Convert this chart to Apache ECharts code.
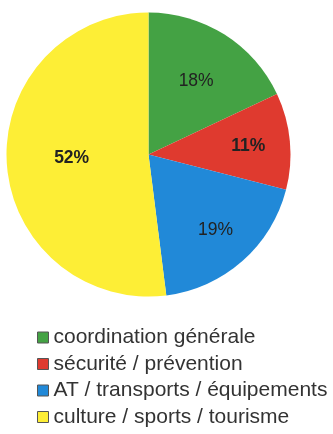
<!DOCTYPE html>
<html>
<head>
<meta charset="utf-8">
<script src="https://cdn.jsdelivr.net/npm/echarts@6/dist/echarts.min.js"></script>
<style>
    html, body { margin: 0; padding: 0; background: #fff; }
    #chart { width: 333px; height: 434px; }
</style>
</head>
<body>
<div id="chart"></div>
<script>
// catégories et parts (%)
const categories = ['coordination générale', 'sécurité / prévention', 'AT / transports / équipements', 'culture / sports / tourisme'];
const values = [18, 11, 19, 52];
const colors = ['#44a244', '#df3a2f', '#2189d8', '#fdee36'];
// décalage des étiquettes par rapport à la position "inside"
const labelOffsets = [[8, -11], [26, -1], [18, 20], [-3, -1]];
const labelWeights = ['normal', 'bold', 'normal', 'bold'];

const myChart = echarts.init(document.getElementById('chart'));

const option = {
    animation: false,
    legend: {
        orient: 'vertical',
        left: 37,
        top: 327,
        height: 107,
        padding: 0,
        itemWidth: 11,
        itemHeight: 11,
        itemGap: 5.5,
        icon: 'rect',
        itemStyle: {
            borderColor: '#555',
            borderWidth: 1
        },
        textStyle: {
            fontFamily: 'Liberation Sans, Arial, sans-serif',
            fontSize: 21,
            color: '#333'
        },
        data: categories
    },
    series: [
        {
            type: 'pie',
            center: [148.5, 154.5],
            radius: [0, 142],
            startAngle: 90,
            clockwise: true,
            avoidLabelOverlap: false,
            labelLine: { show: false },
            emphasis: { disabled: true },
            data: categories.map((name, i) => ({
                name: name,
                value: values[i],
                itemStyle: { color: colors[i] },
                label: {
                    show: true,
                    position: 'inside',
                    offset: labelOffsets[i],
                    formatter: values[i] + '%',
                    fontFamily: 'Liberation Sans, Arial, sans-serif',
                    fontSize: 17.5,
                    fontWeight: labelWeights[i],
                    color: '#222'
                }
            }))
        }
    ]
};

myChart.setOption(option);
</script>
</body>
</html>
